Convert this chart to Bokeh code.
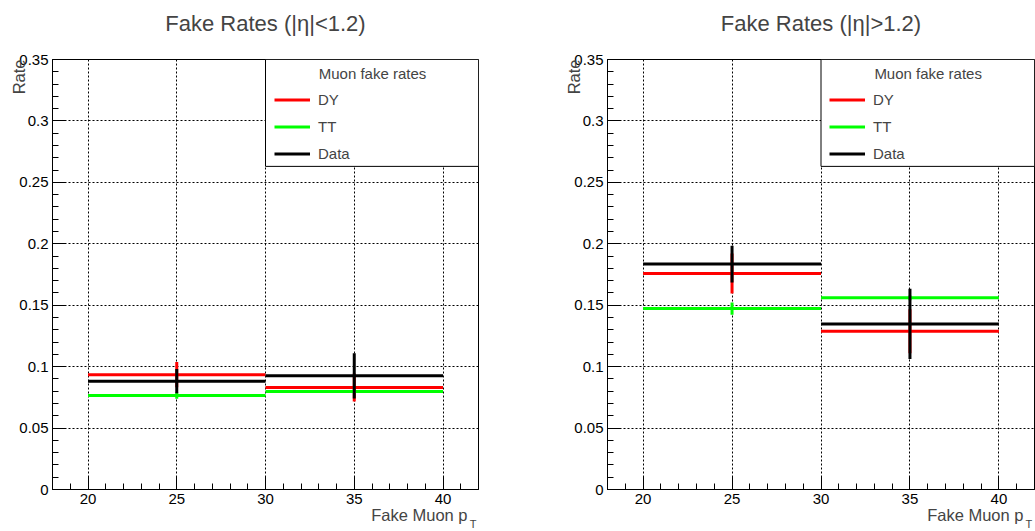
import math
from bokeh.plotting import figure
from bokeh.models import (FixedTicker, Label, BoxAnnotation, Legend, LegendItem,
                          ColumnDataSource, Range1d, CustomJSTickFormatter)
from bokeh.layouts import row
from bokeh.embed import file_html
from bokeh.resources import INLINE

# ---- data ----
bin_lo = [20, 30]
bin_hi = [30, 40]
bin_center = [25, 35]

# |eta| < 1.2
dy_barrel = [0.0935, 0.0830]
dy_barrel_err = [0.0103, 0.0114]
tt_barrel = [0.0765, 0.0797]
tt_barrel_err = [0.0027, 0.0012]
data_barrel = [0.0882, 0.0925]
data_barrel_err = [0.0098, 0.0185]

# |eta| > 1.2
dy_endcap = [0.1758, 0.1288]
dy_endcap_err = [0.0162, 0.0180]
tt_endcap = [0.1473, 0.1560]
tt_endcap_err = [0.0050, 0.0020]
data_endcap = [0.1835, 0.1348]
data_endcap_err = [0.0150, 0.0285]

series_names = ["DY", "TT", "Data"]
series_colors = ["#ff0000", "#00ff00", "#000000"]

x_ticks = [20, 25, 30, 35, 40]
x_minor = list(range(18, 43))
y_ticks = [0, 0.05, 0.1, 0.15, 0.2, 0.25, 0.3, 0.35]
y_minor = [round(i * 0.01, 2) for i in range(0, 36)]

x_range = (18, 42)
y_range = (0, 0.35)

FONT = "Liberation Sans"


def make_panel(title, series, width, mbl, mbr, rate_side, sub_side):
    p = figure(width=width, height=531, x_range=Range1d(*x_range), y_range=Range1d(*y_range),
               output_backend="svg", toolbar_location=None,
               min_border_left=mbl, min_border_right=mbr, min_border_top=59, min_border_bottom=42)
    p.background_fill_color = "white"
    p.border_fill_color = "white"
    p.outline_line_color = "black"
    p.outline_line_width = 1
    p.outline_line_alpha = 1

    xt = FixedTicker(ticks=x_ticks, minor_ticks=x_minor)
    yt = FixedTicker(ticks=y_ticks, minor_ticks=y_minor)
    p.xaxis.ticker = xt
    p.yaxis.ticker = yt
    p.xgrid.ticker = xt
    p.ygrid.ticker = yt
    p.yaxis.formatter = CustomJSTickFormatter(code="return String(Math.round(tick*100)/100);")
    for ax in (p.xaxis, p.yaxis):
        ax.axis_line_color = "black"
        ax.axis_line_width = 1
        ax.major_tick_line_color = "black"
        ax.minor_tick_line_color = "black"
        ax.major_tick_in = 13
        ax.major_tick_out = 0
        ax.minor_tick_in = 6
        ax.minor_tick_out = 0
        ax.major_label_text_font = FONT
        ax.major_label_text_font_size = "15px"
        ax.major_label_text_color = "black"
        ax.major_label_standoff = 4
    for g in (p.xgrid, p.ygrid):
        g.grid_line_color = "black"
        g.grid_line_dash = "2 2"
        g.grid_line_width = 1
        g.grid_line_alpha = 1

    items = []
    for name, color, (vals, errs) in zip(series_names, series_colors, series):
        src = ColumnDataSource(dict(lo=bin_lo, hi=bin_hi, c=bin_center, v=vals,
                                    top=[v + e for v, e in zip(vals, errs)],
                                    bot=[v - e for v, e in zip(vals, errs)]))
        h = p.segment(x0="lo", x1="hi", y0="v", y1="v", source=src,
                      line_color=color, line_width=3)
        p.segment(x0="c", x1="c", y0="bot", y1="top", source=src,
                  line_color=color, line_width=3)
        items.append(LegendItem(label=name, renderers=[h]))

    # legend box
    box = BoxAnnotation(left=30, right=42, bottom=0.263, top=0.35,
                        fill_color="white", fill_alpha=1,
                        line_color="black", line_width=1, line_alpha=1)
    p.add_layout(box)
    leg = Legend(items=items, location=(222, 322), padding=0, margin=0,
                 glyph_width=36, glyph_height=27, label_height=27, spacing=0,
                 label_standoff=8, label_text_font=FONT, label_text_font_size="15px",
                 background_fill_alpha=0, border_line_alpha=0)
    p.add_layout(leg)
    p.add_layout(Label(x=33.0, y=0.3384, text="Muon fake rates", text_align="left",
                       text_baseline="middle", text_font=FONT, text_font_size="15px"))

    # title and axis titles (placed in side panels with spare room, so they are not clipped)
    p.add_layout(Label(x=30, y=0.3795, text=title, text_align="center",
                       text_baseline="middle", text_font=FONT, text_font_size="22px"), "above")
    p.add_layout(Label(x=41.38, y=-0.0205, text="Fake Muon p", text_align="right",
                       text_baseline="middle", text_font=FONT, text_font_size="16.5px"), "above")
    p.add_layout(Label(x=16.1, y=0.35, text="Rate", angle=math.pi / 2, text_align="right",
                       text_baseline="middle", text_font=FONT, text_font_size="16.5px"), rate_side)
    p.add_layout(Label(x=41.5, y=-0.0281, text="T", text_align="left",
                       text_baseline="middle", text_font=FONT, text_font_size="11px"), sub_side)
    return p


p1 = make_panel("Fake Rates (|\u03b7|<1.2)",
                [(dy_barrel, dy_barrel_err), (tt_barrel, tt_barrel_err), (data_barrel, data_barrel_err)],
                540, 52, 62, "right", "left")
p2 = make_panel("Fake Rates (|\u03b7|>1.2)",
                [(dy_endcap, dy_endcap_err), (tt_endcap, tt_endcap_err), (data_endcap, data_endcap_err)],
                495, 67, 1, "left", "left")

layout = row(p1, p2)
open("out.html", "w").write(file_html(layout, INLINE))
